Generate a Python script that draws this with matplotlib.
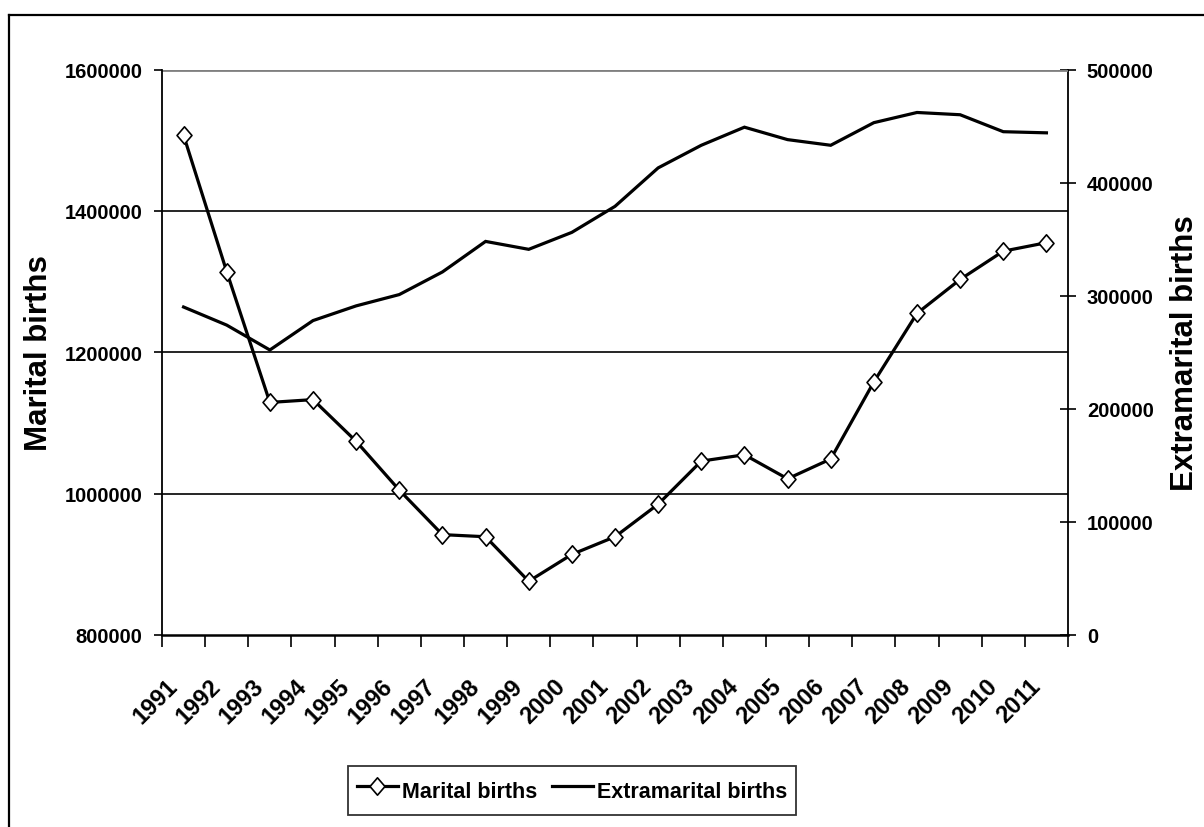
import matplotlib
matplotlib.use("Agg")
import matplotlib.pyplot as plt
from matplotlib.path import Path
from matplotlib.lines import Line2D
import matplotlib.transforms as mtransforms
import numpy as np

years = [str(y) for y in range(1991, 2012)]
marital = [1507000, 1314000, 1129000, 1133000, 1074000, 1005000, 942000, 939000,
           876000, 914000, 939000, 985000, 1046000, 1055000, 1021000, 1049000,
           1158000, 1255000, 1303000, 1343000, 1355000]
extramarital = [290000, 274000, 252000, 278000, 291000, 301000, 321000, 348000,
                341000, 356000, 379000, 413000, 433000, 449000, 438000, 433000,
                453000, 462000, 460000, 445000, 444000]
left_ticks = [800000, 1000000, 1200000, 1400000, 1600000]
right_ticks = [0, 100000, 200000, 300000, 400000, 500000]

FONT = ['Liberation Sans', 'DejaVu Sans']

W, H = 1204, 828
fig = plt.figure(figsize=(W / 100, H / 100), dpi=100)
L, R, T, B = 162, 1068, 70.5, 636
ax = fig.add_axes([L / W, 1 - B / H, (R - L) / W, (B - T) / H])
ax2 = ax.twinx()
ax.set_zorder(ax2.get_zorder() + 1)
ax.patch.set_visible(False)

x = np.arange(len(years))
diamond = Path([(0, 1), (0.86, 0), (0, -1), (-0.86, 0), (0, 1)],
               [Path.MOVETO, Path.LINETO, Path.LINETO, Path.LINETO, Path.CLOSEPOLY])

l2, = ax2.plot(x, extramarital, color='black', lw=2.3, solid_joinstyle='miter',
               label='Extramarital births')
l1, = ax.plot(x, marital, color='black', lw=2.3, marker=diamond, markersize=12.5,
              markerfacecolor='white', markeredgecolor='black', markeredgewidth=1.2,
              label='Marital births')

ax.set_xlim(-0.5, len(years) - 0.5)
ax.set_ylim(800000, 1600000)
ax2.set_ylim(0, 500000)

# gridlines
for v in left_ticks[1:-1]:
    ax.axhline(v, color='black', lw=1.2, zorder=0)
ax.axhline(1600000, color='#808080', lw=2.0, zorder=0)

for a in (ax, ax2):
    for s in a.spines.values():
        s.set_visible(False)
ax.spines['left'].set_visible(True)
ax.spines['left'].set_linewidth(1.3)
ax.spines['bottom'].set_visible(True)
ax.spines['bottom'].set_linewidth(1.8)
ax2.spines['right'].set_visible(True)
ax2.spines['right'].set_linewidth(1.3)

ax.set_yticks(left_ticks)
ax.set_yticklabels([str(v) for v in left_ticks], fontfamily=FONT,
                   fontweight='bold', fontsize=14.5)
ax.tick_params(axis='y', direction='out', length=6, width=1.2, pad=8)
ax2.set_yticks(right_ticks)
ax2.set_yticklabels([str(v) for v in right_ticks], fontfamily=FONT,
                    fontweight='bold', fontsize=14.5)
ax2.tick_params(axis='y', direction='inout', length=11, width=1.2, pad=8)

ax.set_xticks(x)
ax.set_xticklabels(years, rotation=45, ha='right', va='center',
                   rotation_mode='anchor', fontfamily=FONT,
                   fontweight='bold', fontsize=17)
ax.tick_params(axis='x', which='major', length=0, pad=34)
offset = mtransforms.ScaledTranslation(-10 / 100, 0, fig.dpi_scale_trans)
for lab in ax.get_xticklabels():
    lab.set_transform(lab.get_transform() + offset)
ax.set_xticks(np.arange(-0.5, len(years)), minor=True)
ax.tick_params(axis='x', which='minor', direction='out', length=8.5, width=1.2)

ax.set_ylabel('Marital births', fontfamily=FONT, fontweight='bold', fontsize=22.5)
ax.yaxis.set_label_coords((54 - L) / (R - L), 0.5)
ax2.set_ylabel('Extramarital births', fontfamily=FONT, fontweight='bold',
               fontsize=22.5, rotation=90)
ax2.yaxis.set_label_coords((1170 - L) / (R - L), 0.5)

leg = fig.legend(handles=[l1, l2], loc='upper left',
                 bbox_to_anchor=(348 / W, 1 - 767 / H), bbox_transform=fig.transFigure,
                 ncol=2, frameon=True, fancybox=False, shadow=False,
                 prop={'family': FONT, 'weight': 'bold', 'size': 15.5},
                 handlelength=1.9, handleheight=1.9, handletextpad=0.2,
                 columnspacing=0.7, borderaxespad=0, borderpad=0.4)
leg.get_frame().set_edgecolor('black')
leg.get_frame().set_linewidth(1.3)

# outer chart border
fig.add_artist(Line2D([9 / W, 9 / W], [1 - 16 / H, -0.01], transform=fig.transFigure,
                      color='black', lw=1.6))
fig.add_artist(Line2D([9 / W, 1.01], [1 - 16 / H, 1 - 16 / H], transform=fig.transFigure,
                      color='black', lw=1.6))

fig.savefig('out.png', dpi=100)
